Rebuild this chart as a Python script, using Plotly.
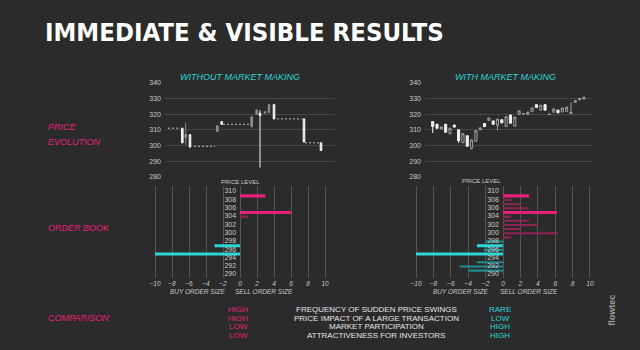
import plotly.graph_objects as go

BG = "#2b2b2b"
PINK = "#e8207a"
PINK_DIM = "#8e2454"
CYAN = "#2ad6d8"
CYAN_DIM = "#1f8c90"
TXT = "#c8c8c8"
GRID = "#464646"

W, H = 640, 350
def fx(x): return x / W
def fy(y): return 1 - y / H

# ---------------- data ----------------
price_ticks = [280, 290, 300, 310, 320, 330, 340]

# left: without market making (time, OHLC)
left_t     = [3.46, 4.14, 5.0, 10.46, 11.34, 17.34, 18.34, 19.0, 20.0, 20.8, 21.8, 27.8, 31.2]
left_open  = [311.0, 305.0, 306.9, 309.0, 315.2, 312.0, 320.0, 320.6, 320.5, 321.0, 326.0, 316.9, 301.7]
left_high  = [311.2, 314.4, 307.0, 313.0, 315.5, 318.5, 323.0, 322.5, 321.7, 326.3, 326.5, 317.0, 302.0]
left_low   = [301.5, 300.6, 298.8, 308.5, 313.3, 311.5, 319.8, 286.0, 320.3, 320.8, 316.7, 302.0, 296.5]
left_close = [301.7, 307.0, 299.0, 312.5, 313.5, 318.3, 322.5, 319.0, 321.5, 326.0, 316.9, 302.3, 296.9]
# flat periods (no trades)
flat_start = [0.6, 5.8, 11.6, 22.4, 28.0]
flat_end   = [2.6, 10.0, 17.0, 27.4, 31.0]
flat_price = [311.0, 299.5, 313.5, 316.9, 301.7]

# right: with market making
right_t = list(range(36))
right_open  = [315.2, 313.5, 310.6, 313.5, 307.5, 313.0, 310.0, 301.8, 306.2, 298.3, 302.7, 310.0,
               314.0, 316.0, 315.6, 313.0, 316.4, 312.1, 319.4, 312.4, 319.8, 320.0, 319.8, 321.5,
               326.0, 322.5, 326.0, 319.7, 321.2, 322.5, 321.3, 321.7, 320.3, 327.5, 329.0, 329.6]
right_high  = [315.5, 313.8, 312.0, 313.8, 311.3, 313.3, 310.3, 307.8, 306.5, 303.7, 309.6, 311.4,
               314.3, 317.7, 315.8, 317.0, 316.6, 318.5, 319.6, 318.3, 322.2, 320.4, 321.4, 324.1,
               326.2, 325.8, 326.2, 320.0, 323.4, 322.7, 324.0, 324.6, 327.5, 328.7, 330.2, 330.9]
right_low   = [308.0, 310.5, 310.2, 308.0, 307.2, 311.5, 301.6, 301.5, 299.3, 297.3, 302.5, 309.8,
               311.8, 315.8, 313.3, 309.7, 314.2, 311.9, 314.0, 312.0, 319.6, 319.9, 319.6, 321.3,
               324.0, 322.3, 322.3, 319.6, 321.0, 320.6, 321.1, 321.5, 320.3, 327.3, 328.8, 329.5]
right_close = [312.1, 311.0, 311.8, 308.5, 311.0, 311.7, 303.1, 307.5, 299.6, 303.5, 309.4, 311.2,
               312.0, 317.5, 313.5, 316.8, 314.4, 318.3, 314.2, 318.0, 322.0, 320.3, 321.2, 323.9,
               324.2, 325.6, 322.5, 319.9, 323.2, 320.8, 323.8, 324.4, 321.0, 328.5, 330.0, 330.7]

# order books (price level, size: + sell / - buy)
book_ticks = [-10, -8, -6, -4, -2, 0, 2, 4, 6, 8, 10]
book_levels = [310, 308, 306, 304, 302, 300, 298, 296, 294, 292, 290]

left_book_price = [309, 305, 304, 297, 295]
left_book_size  = [3, 6, 1, -3, -10]
left_book_strong = [True, True, False, True, True]

right_book_price = [309, 308, 307, 306, 305, 304, 303, 302, 301, 300, 299,
                    298, 297, 296, 295, 293, 292, 291]
right_book_size  = [3, 0.9, 2, 3, 6.2, 0.9, 3, 4, 2, 6.3, 0.9,
                    -2, -3, -2.2, -10, -3, -5, -4]
right_book_strong = [True, False, False, False, True, False, False, False, False, False, False,
                     False, True, False, True, False, False, False]

# comparison table
cmp_without = ["HIGH", "HIGH", "LOW", "LOW"]
cmp_metric = ["FREQUENCY OF SUDDEN PRICE SWINGS", "PRICE IMPACT OF A LARGE TRANSACTION",
              "MARKET PARTICIPATION", "ATTRACTIVENESS FOR INVESTORS"]
cmp_with = ["RARE", "LOW", "HIGH", "HIGH"]

# ---------------- figure ----------------
fig = go.Figure()

# left candles
fig.add_trace(go.Candlestick(
    x=left_t, open=left_open, high=left_high, low=left_low, close=left_close,
    xaxis="x", yaxis="y", whiskerwidth=0,
    increasing=dict(line=dict(color="#8c8c8c", width=1), fillcolor="#8c8c8c"),
    decreasing=dict(line=dict(color="#f2f2f2", width=1), fillcolor="#f2f2f2"),
    showlegend=False, hoverinfo="skip"))

fx_, fy_ = [], []
for a, b, p in zip(flat_start, flat_end, flat_price):
    fx_ += [a, b, None]
    fy_ += [p, p, None]
fig.add_trace(go.Scatter(x=fx_, y=fy_, mode="lines", xaxis="x", yaxis="y",
                         line=dict(color="#bdbdbd", width=1, dash="2px,2px"),
                         showlegend=False, hoverinfo="skip"))

# right candles
fig.add_trace(go.Candlestick(
    x=right_t, open=right_open, high=right_high, low=right_low, close=right_close,
    xaxis="x2", yaxis="y2", whiskerwidth=0,
    increasing=dict(line=dict(color="#a0a0a0", width=1), fillcolor=BG),
    decreasing=dict(line=dict(color="#f2f2f2", width=1), fillcolor="#f2f2f2"),
    showlegend=False, hoverinfo="skip"))

def book_style(sizes, strong):
    cols, widths = [], []
    for s, st in zip(sizes, strong):
        if s > 0:
            cols.append(PINK if st else PINK_DIM)
        else:
            cols.append(CYAN if st else CYAN_DIM)
        widths.append(0.75 if st else 0.5)
    return cols, widths

c, w = book_style(left_book_size, left_book_strong)
fig.add_trace(go.Bar(y=left_book_price, x=left_book_size, orientation="h", width=w,
                     marker=dict(color=c, line=dict(width=0)), xaxis="x3", yaxis="y3",
                     showlegend=False, hoverinfo="skip"))
c, w = book_style(right_book_size, right_book_strong)
fig.add_trace(go.Bar(y=right_book_price, x=right_book_size, orientation="h", width=w,
                     marker=dict(color=c, line=dict(width=0)), xaxis="x4", yaxis="y4",
                     showlegend=False, hoverinfo="skip"))

for xa, ya in (("x3", "y3"), ("x4", "y4")):
    fig.add_trace(go.Scatter(x=[-1.15] * len(book_levels), y=book_levels, mode="text",
                             text=[str(v) for v in book_levels],
                             textfont=dict(size=7, color=TXT, family="Liberation Sans"),
                             xaxis=xa, yaxis=ya, showlegend=False, hoverinfo="skip"))

price_y = dict(range=[279.5, 340.5], domain=[fy(177.8), fy(80.2)], tickvals=price_ticks,
               showgrid=True, gridcolor=GRID, gridwidth=1, zeroline=False, ticks="",
               tickfont=dict(size=7, color=TXT, family="Liberation Sans"), showline=False,
               ticklabelstandoff=3)
book_y = dict(range=[289.17, 311.42], domain=[fy(280), fy(186)], showticklabels=False,
              showgrid=False, zeroline=False, ticks="", showline=False)
book_x = dict(range=[-10.6, 10.6], tickvals=book_ticks, showgrid=True, gridcolor="#555555",
              gridwidth=1, zeroline=False, ticks="", showline=False,
              tickfont=dict(size=6.5, color=TXT, family="Liberation Sans", style="italic"),
              ticklabelstandoff=0)

fig.update_layout(
    width=W, height=H, margin=dict(l=0, r=0, t=0, b=0),
    paper_bgcolor=BG, plot_bgcolor=BG, showlegend=False, boxgap=0.3,
    xaxis=dict(domain=[fx(165), fx(335)], range=[0, 34], showgrid=False, zeroline=False,
               showticklabels=False, rangeslider=dict(visible=False), showline=False, anchor="y"),
    yaxis=dict(price_y, anchor="x"),
    xaxis2=dict(domain=[fx(425), fx(592)], range=[-1.78, 36.87], showgrid=False, zeroline=False,
                showticklabels=False, rangeslider=dict(visible=False), showline=False, anchor="y2"),
    yaxis2=dict(price_y, anchor="x2"),
    xaxis3=dict(book_x, domain=[fx(149.9), fx(330.1)], anchor="y3"),
    yaxis3=dict(book_y, anchor="x3"),
    xaxis4=dict(book_x, domain=[fx(410.8), fx(595.2)], anchor="y4"),
    yaxis4=dict(book_y, anchor="x4"),
)

ann = []
def A(text, x, y, size, color, xanchor="center", italic=False, bold=False, family="Liberation Sans", angle=0):
    ann.append(dict(text=text, x=fx(x), y=fy(y), xref="paper", yref="paper", showarrow=False,
                    xanchor=xanchor, yanchor="middle", textangle=angle,
                    font=dict(size=size, color=color, family=family,
                              style="italic" if italic else "normal",
                              weight="bold" if bold else "normal")))

A("IMMEDIATE & VISIBLE RESULTS", 43, 30, 25.5, "#ffffff", xanchor="left", bold=True,
  family="Liberation Sans Narrow, DejaVu Sans Condensed, Liberation Sans")
A("WITHOUT MARKET MAKING", 240, 75, 9, CYAN, italic=True)
A("WITH MARKET MAKING", 505, 75, 9, CYAN, italic=True)
A("PRICE LEVEL", 240, 182, 6, TXT)
A("PRICE LEVEL", 481, 181, 6, TXT)
A("BUY ORDER SIZE", 197, 293.5, 6.5, TXT, italic=True)
A("SELL ORDER SIZE", 264, 293.5, 6.5, TXT, italic=True)
A("BUY ORDER SIZE", 460, 294, 6.5, TXT, italic=True)
A("SELL ORDER SIZE", 529, 294, 6.5, TXT, italic=True)
A("PRICE", 46, 126, 9, PINK, xanchor="left", italic=True)
A("EVOLUTION", 46, 141, 9, PINK, xanchor="left", italic=True)
A("ORDER BOOK", 46, 229, 9, PINK, xanchor="left", italic=True)
A("COMPARISON", 46, 320, 9, PINK, xanchor="left", italic=True)
for i, (a, m, b) in enumerate(zip(cmp_without, cmp_metric, cmp_with)):
    yy = 311.5 + 9 * i
    A(a, 238, yy, 8, PINK)
    A(m, 376, yy, 8, "#e6e6e6")
    A(b, 500, yy, 8, CYAN)
A("flowtec", 612, 313, 9, "#9a9a9a", bold=True, angle=-90)

fig.update_layout(annotations=ann)
fig.write_html("out.html")
